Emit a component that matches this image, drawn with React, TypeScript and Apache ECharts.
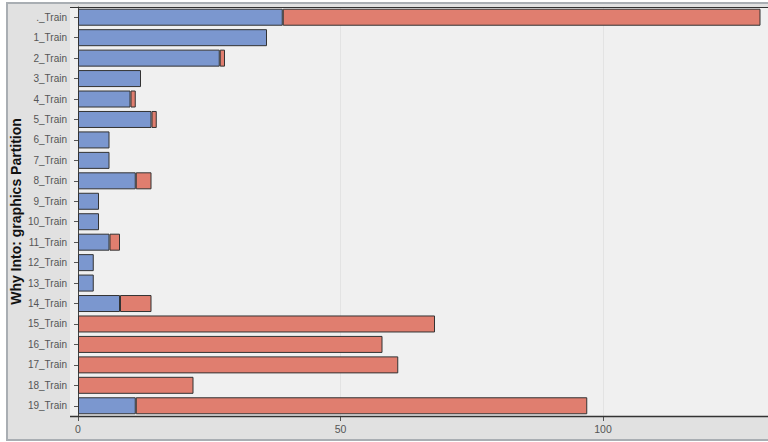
import React, { useEffect, useRef } from "react";
import * as echarts from "echarts";

const categories = [
  "._Train", "1_Train", "2_Train", "3_Train", "4_Train", "5_Train", "6_Train",
  "7_Train", "8_Train", "9_Train", "10_Train", "11_Train", "12_Train", "13_Train",
  "14_Train", "15_Train", "16_Train", "17_Train", "18_Train", "19_Train",
];
const blueValues = [39, 36, 27, 12, 10, 14, 6, 6, 11, 4, 4, 6, 3, 3, 8, 0, 0, 0, 0, 11];
const redValues = [91, 0, 1, 0, 1, 1, 0, 0, 3, 0, 0, 2, 0, 0, 6, 68, 58, 61, 22, 86];
const xTicks = [0, 50, 100];
const yTitle = "Why Into: graphics Partition";

const W = 768;
const H = 442;

export default function App() {
  const ref = useRef<HTMLDivElement>(null);
  useEffect(() => {
    if (!ref.current) return;
    const chart = echarts.init(ref.current, null, { renderer: "svg" });
    const labelFont = '"Liberation Sans", Arial, sans-serif';
    const gridLeft = 78;
    const gridTop = 7;
    const gridH = 409;
    const xMax = 132;
    const pxPerUnit = 5.25;
    const toNull = (v: number) => (v === 0 ? "-" : v);
    chart.setOption({
      animation: false,
      backgroundColor: "#ffffff",
      graphic: [
        {
          type: "rect",
          z: -10,
          silent: true,
          shape: { x: 7, y: 3, width: 775, height: 437 },
          style: { fill: "#e1e1e1", stroke: "#a9aeb3", lineWidth: 2 },
        },
        {
          type: "rect",
          z: -9,
          silent: true,
          shape: { x: 70, y: gridTop, width: 720, height: gridH },
          style: { fill: "#f0f0f0" },
        },
        {
          type: "line",
          z: 5,
          silent: true,
          shape: { x1: 70, y1: gridTop + 0.5, x2: 790, y2: gridTop + 0.5 },
          style: { stroke: "#333333", lineWidth: 1 },
        },
        {
          type: "line",
          z: 5,
          silent: true,
          shape: { x1: 70, y1: gridTop + gridH + 0.5, x2: 790, y2: gridTop + gridH + 0.5 },
          style: { stroke: "#333333", lineWidth: 1.5 },
        },
      ],
      grid: {
        left: gridLeft,
        top: gridTop,
        height: gridH,
        width: xMax * pxPerUnit,
        containLabel: false,
        outerBoundsMode: "none",
      },
      xAxis: {
        type: "value",
        min: 0,
        max: xMax,
        interval: 50,
        axisLine: { show: false },
        axisTick: { show: true, length: 5, lineStyle: { color: "#555555" } },
        axisLabel: {
          showMaxLabel: false,
          color: "#555555",
          fontSize: 10.5,
          fontFamily: labelFont,
          margin: 7,
          formatter: (v: number) => (xTicks.includes(v) ? String(v) : ""),
        },
        splitLine: { show: true, lineStyle: { color: "#e3e3e3", width: 1 } },
      },
      yAxis: {
        type: "category",
        data: categories,
        inverse: true,
        offset: 8,
        name: yTitle,
        nameLocation: "middle",
        nameRotate: 90,
        nameGap: 47,
        nameMoveOverlap: false,
        nameTextStyle: {
          color: "#111111",
          fontSize: 14,
          fontWeight: "bold",
          fontFamily: '"Liberation Sans", Arial, sans-serif',
        },
        axisLine: { show: true, lineStyle: { color: "#444444", width: 1 } },
        axisTick: { show: true, length: 4, alignWithLabel: true, lineStyle: { color: "#555555" } },
        axisLabel: {
          color: "#555555",
          fontSize: 10,
          fontFamily: labelFont,
          margin: 3,
        },
        splitLine: { show: false },
      },
      series: [
        {
          type: "bar",
          stack: "total",
          barWidth: 17,
          data: blueValues.map(toNull),
          itemStyle: { color: "#7b97cf", borderColor: "#333333", borderWidth: 1 },
        },
        {
          type: "bar",
          stack: "total",
          barWidth: 17,
          data: redValues.map(toNull),
          itemStyle: { color: "#e07e6f", borderColor: "#333333", borderWidth: 1 },
        },
      ],
    });
    return () => chart.dispose();
  }, []);
  return (
    <div
      ref={ref}
      style={{ position: "fixed", left: 0, top: 0, width: W, height: H }}
    />
  );
}
